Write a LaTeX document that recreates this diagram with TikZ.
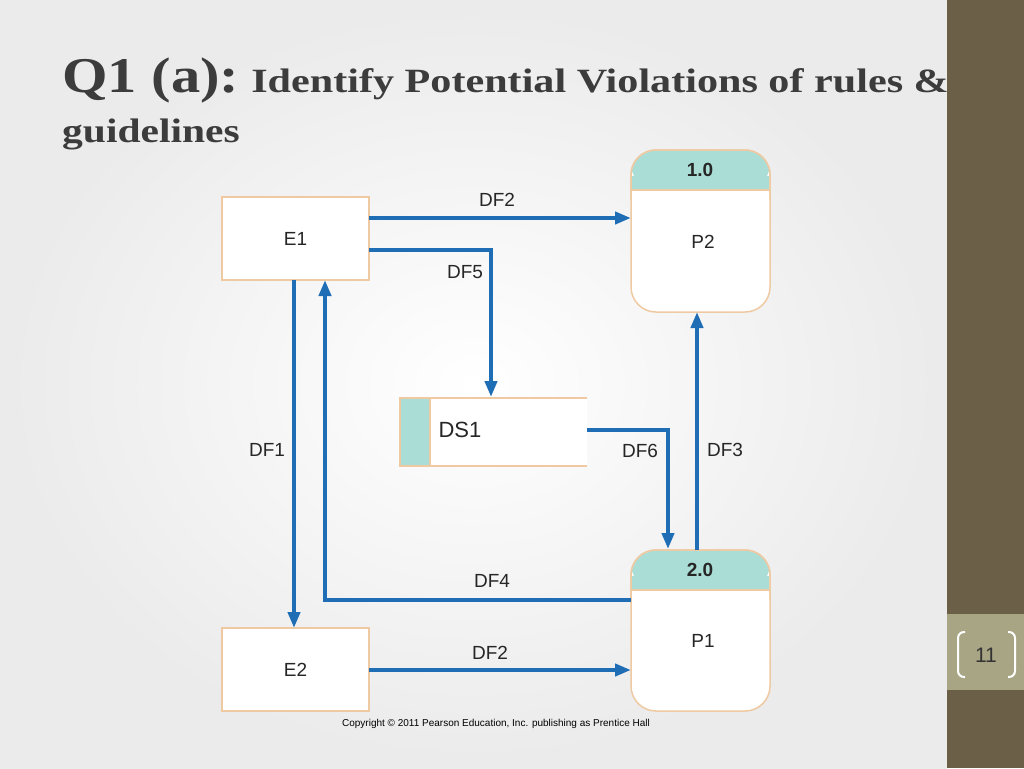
\documentclass[tikz,border=0pt]{standalone}
\usepackage{fontspec}
\setmainfont{Liberation Serif}
\setsansfont{Liberation Sans}
\usetikzlibrary{arrows.meta}
\definecolor{flow}{HTML}{1F6DB5}
\definecolor{edge}{HTML}{EFC9A2}
\definecolor{teal}{HTML}{A9DDD5}
\definecolor{side}{HTML}{6B5F47}
\definecolor{band}{HTML}{A8A585}
\definecolor{ttl}{HTML}{3C3C3C}
\tikzset{
 fl/.style={draw=flow,line width=4pt,-{Triangle[length=16pt,width=12pt]}},
 lab/.style={font=\sffamily\fontsize{19}{19}\selectfont,text=black!85},
 box/.style={draw=edge,line width=1.5pt,fill=white}
}
\begin{document}
\begin{tikzpicture}[x=1pt,y=-1pt]
\useasboundingbox (0,0) rectangle (1024,768);
\shade[inner color=white,outer color=black!8] (0,0) rectangle (947,768);
\fill[side] (947,0) rectangle (1024,768);
\fill[band] (947,614) rectangle (1024,690);
\node[text=black!80,font=\sffamily\fontsize{21}{21}\selectfont] (pg) at (986,655) {11};
\draw[white,line width=2pt,rounded corners=6] (965,632) -- (958,632) -- (958,677) -- (965,677);
\draw[white,line width=2pt,rounded corners=6] (1008,632) -- (1015,632) -- (1015,677) -- (1008,677);
\node[anchor=base west,text=ttl,inner sep=0,font=\bfseries] (t1) at (62,92) {\scalebox{1.17}[1]{\fontsize{50}{50}\selectfont Q1 (a):}\hspace{12pt}\scalebox{1.24}[1]{\fontsize{34}{34}\selectfont Identify Potential Violations of rules \&}};
\node[anchor=base west,text=ttl,inner sep=0,font=\bfseries\fontsize{34}{34}\selectfont] (t2) at (62,142) {\scalebox{1.22}[1]{guidelines}};
% E1, E2
\node[box,minimum width=147,minimum height=83,lab] (e1) at (295.5,238.5) {E1};
\node[box,minimum width=147,minimum height=83,lab] (e2) at (295.5,669.5) {E2};
% P2
\draw[box,rounded corners=25] (631,150) rectangle (770,312);
\fill[teal,rounded corners=24] (631.8,150.8) -- (769.2,150.8) -- (769.2,190) -- (631.8,190) -- cycle;
\fill[teal] (631.8,176) rectangle (769.2,190);
\draw[edge,line width=1.5pt,rounded corners=25] (631,200) -- (631,150) -- (770,150) -- (770,200);
\draw[edge,line width=1.5pt] (631,190) -- (770,190);
\node[lab,font=\sffamily\bfseries\fontsize{19}{19}\selectfont] (p2id) at (700,170) {1.0};
\node[lab] (p2) at (703,242) {P2};
\coordinate (p2b) at (697,312);
% P1
\draw[box,rounded corners=25] (631,550) rectangle (770,711);
\fill[teal,rounded corners=24] (631.8,550.8) -- (769.2,550.8) -- (769.2,590) -- (631.8,590) -- cycle;
\fill[teal] (631.8,576) rectangle (769.2,590);
\draw[edge,line width=1.5pt,rounded corners=25] (631,600) -- (631,550) -- (770,550) -- (770,600);
\draw[edge,line width=1.5pt] (631,590) -- (770,590);
\node[lab,font=\sffamily\bfseries\fontsize{19}{19}\selectfont] (p1id) at (700,570) {2.0};
\node[lab] (p1) at (703,641) {P1};
% DS1
\fill[white] (400,398) rectangle (587,466);
\fill[teal] (400,398) rectangle (430,466);
\draw[edge,line width=1.5pt] (587,398) -- (400,398) -- (400,466) -- (587,466);
\draw[edge,line width=1.5pt] (430,398) -- (430,466);
\node[lab,font=\sffamily\fontsize{22}{22}\selectfont] (ds1) at (460,430) {DS1};
% flows
\draw[fl] (369,218) -- (631,218);
\node[lab] (l2a) at (497,200) {DF2};
\draw[fl] (369,250) -- (491,250) -- (491,397);
\node[lab] (l5) at (465,272) {DF5};
\draw[fl] (294,280) -- (294,628);
\node[lab] (l1) at (267,450) {DF1};
\draw[fl] (631,600) -- (325,600) -- (325,280);
\node[lab] (l4) at (492,581) {DF4};
\draw[fl] (369,670) -- (631,670);
\node[lab] (l2b) at (490,653) {DF2};
\draw[fl] (587,430) -- (668,430) -- (668,549);
\node[lab] (l6) at (640,451) {DF6};
\draw[fl] (697,550) -- (p2b);
\node[lab] (l3) at (725,450) {DF3};
\node[font=\sffamily\fontsize{10}{10}\selectfont] (cp) at (496,724) {Copyright \textcopyright\ 2011 Pearson Education, Inc. publishing as Prentice Hall};
\end{tikzpicture}
\end{document}
